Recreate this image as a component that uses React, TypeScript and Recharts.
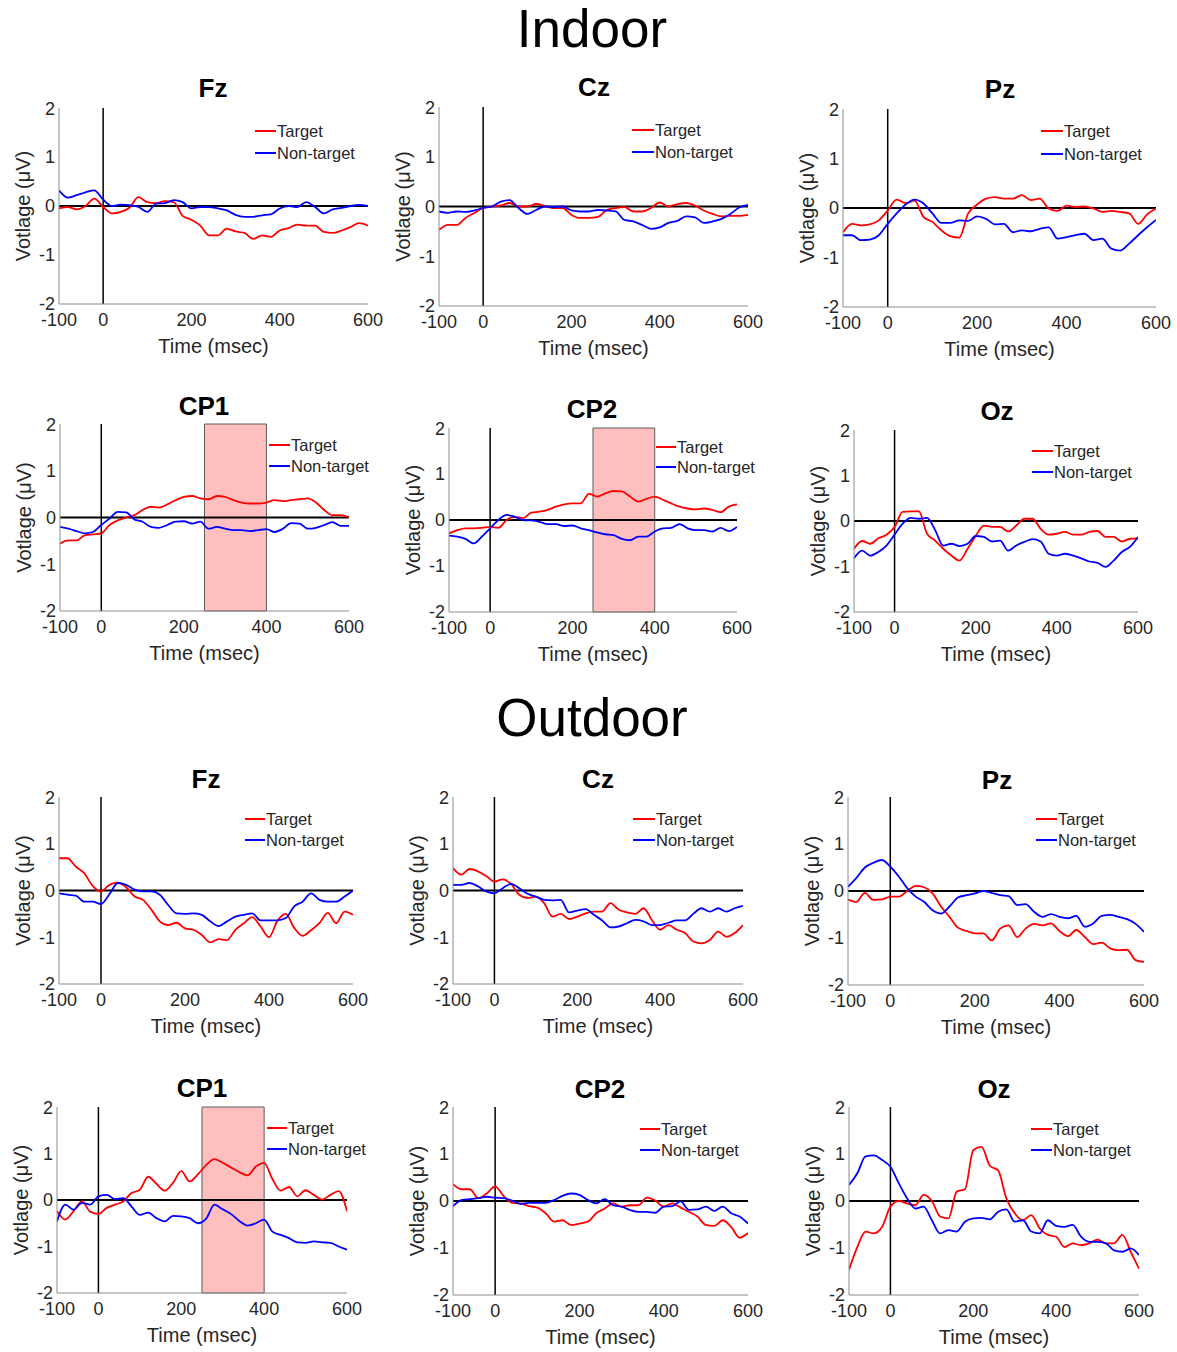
import React from 'react';
import { LineChart, Line, XAxis, YAxis, ReferenceLine, ReferenceArea } from 'recharts';

// ---------- data ----------
const TIMES = [-100, -80, -60, -40, -20, 0, 20, 40, 60, 80, 100, 120, 140, 160, 180, 200, 220, 240, 260, 280, 300, 320, 340, 360, 380, 400, 420, 440, 460, 480, 500, 520, 540, 560, 580, 600];
const X_TICKS = [-100, 0, 200, 400, 600];
const Y_TICKS = [-2, -1, 0, 1, 2];
const LEGEND_LABELS = ['Target', 'Non-target'];
const SECTION_TITLES = ['Indoor', 'Outdoor'];
const SHADE_WINDOW = [250, 400];

const indoorFzTarget = [-0.05, -0.02, -0.07, 0.0, 0.15, -0.02, -0.15, -0.12, -0.03, 0.18, 0.08, 0.06, 0.1, 0.08, -0.2, -0.28, -0.4, -0.6, -0.6, -0.46, -0.52, -0.55, -0.67, -0.6, -0.63, -0.5, -0.45, -0.38, -0.4, -0.4, -0.53, -0.55, -0.5, -0.43, -0.35, -0.4];
const indoorFzNon = [0.32, 0.17, 0.22, 0.28, 0.32, 0.13, 0.0, 0.03, 0.02, -0.02, -0.12, 0.05, 0.06, 0.12, 0.08, -0.05, -0.02, -0.02, -0.05, -0.09, -0.18, -0.22, -0.22, -0.19, -0.17, -0.05, 0.0, -0.02, 0.08, -0.02, -0.15, -0.07, -0.04, 0.0, 0.02, 0.0];

const indoorCzTarget = [-0.47, -0.37, -0.37, -0.23, -0.13, -0.03, 0.0, 0.02, 0.07, 0.0, 0.0, 0.05, 0.01, -0.03, -0.03, -0.17, -0.23, -0.23, -0.21, -0.07, -0.03, -0.01, -0.1, -0.1, -0.03, 0.08, 0.0, 0.05, 0.07, 0.02, -0.08, -0.15, -0.2, -0.19, -0.19, -0.17];
const indoorCzNon = [-0.1, -0.13, -0.1, -0.11, -0.08, -0.03, 0.0, 0.1, 0.13, -0.03, -0.15, -0.07, 0.0, -0.01, 0.0, -0.08, -0.1, -0.1, -0.07, -0.08, -0.1, -0.27, -0.3, -0.37, -0.45, -0.42, -0.33, -0.29, -0.2, -0.22, -0.33, -0.3, -0.25, -0.15, -0.02, 0.03];

const indoorPzTarget = [-0.49, -0.32, -0.35, -0.33, -0.25, -0.05, 0.17, 0.1, 0.15, -0.18, -0.28, -0.45, -0.57, -0.6, -0.11, 0.07, 0.19, 0.22, 0.19, 0.19, 0.26, 0.16, 0.19, -0.01, -0.06, 0.05, 0.02, 0.03, -0.01, -0.08, -0.06, -0.08, -0.11, -0.32, -0.13, -0.01];
const indoorPzNon = [-0.55, -0.55, -0.65, -0.64, -0.55, -0.32, -0.11, 0.07, 0.17, 0.09, -0.11, -0.3, -0.3, -0.25, -0.26, -0.17, -0.22, -0.33, -0.32, -0.49, -0.45, -0.47, -0.42, -0.39, -0.62, -0.59, -0.55, -0.52, -0.65, -0.62, -0.82, -0.86, -0.72, -0.55, -0.39, -0.24];

const indoorCp1Target = [-0.56, -0.49, -0.49, -0.38, -0.36, -0.34, -0.16, -0.06, 0.0, 0.05, 0.16, 0.23, 0.21, 0.28, 0.37, 0.44, 0.46, 0.41, 0.39, 0.46, 0.44, 0.37, 0.32, 0.3, 0.3, 0.32, 0.37, 0.35, 0.37, 0.39, 0.41, 0.32, 0.16, 0.05, 0.05, 0.0];
const indoorCp1Non = [-0.2, -0.24, -0.29, -0.34, -0.31, -0.16, -0.02, 0.12, 0.11, -0.04, -0.09, -0.2, -0.22, -0.16, -0.09, -0.08, -0.13, -0.09, -0.24, -0.2, -0.24, -0.27, -0.27, -0.29, -0.27, -0.25, -0.31, -0.24, -0.12, -0.13, -0.24, -0.22, -0.16, -0.1, -0.18, -0.18];

const indoorCp2Target = [-0.29, -0.22, -0.18, -0.18, -0.17, -0.15, -0.17, 0.0, 0.07, 0.04, 0.16, 0.18, 0.22, 0.29, 0.34, 0.36, 0.36, 0.57, 0.51, 0.58, 0.63, 0.62, 0.51, 0.4, 0.46, 0.51, 0.44, 0.36, 0.29, 0.25, 0.23, 0.25, 0.22, 0.17, 0.29, 0.34];
const indoorCp2Non = [-0.34, -0.36, -0.41, -0.51, -0.36, -0.18, 0.0, 0.11, 0.07, 0.0, -0.01, -0.04, -0.09, -0.09, -0.13, -0.12, -0.18, -0.22, -0.27, -0.31, -0.33, -0.41, -0.44, -0.36, -0.36, -0.25, -0.18, -0.17, -0.09, -0.18, -0.22, -0.22, -0.25, -0.17, -0.24, -0.15];

const indoorOzTarget = [-0.61, -0.44, -0.5, -0.38, -0.3, -0.13, 0.2, 0.21, 0.21, -0.28, -0.43, -0.61, -0.76, -0.87, -0.61, -0.33, -0.1, -0.13, -0.13, -0.23, -0.1, 0.05, 0.05, -0.17, -0.3, -0.28, -0.24, -0.3, -0.3, -0.24, -0.22, -0.35, -0.35, -0.45, -0.39, -0.38];
const indoorOzNon = [-0.82, -0.65, -0.76, -0.68, -0.54, -0.3, -0.06, 0.07, 0.05, 0.07, -0.2, -0.54, -0.5, -0.55, -0.5, -0.33, -0.35, -0.45, -0.43, -0.65, -0.54, -0.46, -0.4, -0.45, -0.72, -0.76, -0.72, -0.76, -0.82, -0.89, -0.92, -1.01, -0.87, -0.68, -0.57, -0.35];

const outdoorFzTarget = [0.69, 0.69, 0.51, 0.37, 0.1, -0.02, 0.12, 0.17, 0.07, -0.13, -0.2, -0.41, -0.66, -0.74, -0.69, -0.81, -0.84, -0.95, -1.11, -1.04, -1.06, -0.84, -0.7, -0.57, -0.77, -1.0, -0.65, -0.5, -0.8, -0.97, -0.85, -0.7, -0.48, -0.7, -0.45, -0.52];
const outdoorFzNon = [-0.06, -0.09, -0.11, -0.24, -0.24, -0.29, -0.08, 0.16, 0.12, 0.02, -0.02, -0.02, -0.09, -0.31, -0.49, -0.5, -0.49, -0.52, -0.66, -0.76, -0.66, -0.56, -0.52, -0.49, -0.64, -0.64, -0.64, -0.59, -0.34, -0.24, -0.06, -0.2, -0.24, -0.24, -0.13, 0.0];

const outdoorCzTarget = [0.48, 0.34, 0.46, 0.41, 0.31, 0.19, 0.24, 0.14, -0.09, -0.16, -0.13, -0.27, -0.56, -0.5, -0.61, -0.56, -0.49, -0.45, -0.45, -0.27, -0.41, -0.47, -0.5, -0.38, -0.63, -0.84, -0.74, -0.84, -0.91, -1.09, -1.13, -1.06, -0.88, -0.99, -0.91, -0.74];
const outdoorCzNon = [0.12, 0.12, 0.16, 0.09, -0.02, -0.06, 0.05, 0.14, 0.05, -0.07, -0.13, -0.2, -0.21, -0.2, -0.47, -0.43, -0.4, -0.52, -0.64, -0.79, -0.77, -0.7, -0.63, -0.66, -0.74, -0.74, -0.69, -0.64, -0.64, -0.5, -0.38, -0.45, -0.38, -0.45, -0.38, -0.33];

const outdoorPzTarget = [-0.18, -0.23, -0.04, -0.19, -0.18, -0.12, -0.12, 0.0, 0.11, 0.08, -0.05, -0.33, -0.55, -0.78, -0.85, -0.9, -0.9, -1.05, -0.8, -0.73, -0.98, -0.8, -0.7, -0.73, -0.69, -0.85, -0.96, -0.83, -0.98, -1.13, -1.1, -1.22, -1.26, -1.25, -1.47, -1.51];
const outdoorPzNon = [0.09, 0.28, 0.5, 0.6, 0.66, 0.52, 0.31, 0.06, -0.12, -0.23, -0.41, -0.48, -0.33, -0.14, -0.09, -0.05, 0.0, -0.04, -0.09, -0.11, -0.3, -0.28, -0.44, -0.55, -0.49, -0.55, -0.58, -0.53, -0.76, -0.69, -0.53, -0.51, -0.55, -0.6, -0.7, -0.87];

const outdoorCp1Target = [-0.24, -0.42, -0.24, -0.03, -0.25, -0.3, -0.17, -0.1, -0.03, 0.15, 0.22, 0.5, 0.35, 0.2, 0.37, 0.62, 0.4, 0.55, 0.75, 0.88, 0.8, 0.7, 0.6, 0.53, 0.72, 0.8, 0.45, 0.2, 0.28, 0.08, 0.21, 0.11, 0.01, 0.11, 0.19, -0.24];
const outdoorCp1Non = [-0.46, -0.1, -0.21, -0.06, -0.1, 0.08, 0.11, 0.02, 0.04, -0.14, -0.32, -0.27, -0.39, -0.46, -0.34, -0.35, -0.39, -0.5, -0.4, -0.1, -0.2, -0.3, -0.45, -0.55, -0.5, -0.42, -0.68, -0.75, -0.82, -0.91, -0.92, -0.89, -0.91, -0.92, -1.0, -1.07];

const outdoorCp2Target = [0.36, 0.25, 0.25, 0.06, 0.16, 0.31, 0.11, -0.04, -0.05, -0.11, -0.14, -0.26, -0.44, -0.41, -0.51, -0.48, -0.44, -0.26, -0.16, -0.05, -0.12, -0.09, -0.09, 0.07, 0.01, -0.12, -0.05, -0.14, -0.23, -0.33, -0.51, -0.53, -0.41, -0.55, -0.78, -0.68];
const outdoorCp2Non = [-0.11, 0.02, 0.04, 0.06, 0.09, 0.07, 0.06, 0.01, -0.06, -0.04, -0.04, -0.04, 0.02, 0.11, 0.16, 0.13, 0.02, -0.05, 0.04, -0.09, -0.12, -0.19, -0.23, -0.23, -0.25, -0.12, -0.11, -0.01, -0.19, -0.18, -0.12, -0.21, -0.12, -0.26, -0.33, -0.48];

const outdoorOzTarget = [-1.46, -0.98, -0.65, -0.69, -0.55, -0.12, 0.0, -0.05, -0.09, 0.13, 0.0, -0.33, -0.37, 0.2, 0.25, 1.08, 1.15, 0.75, 0.65, 0.05, -0.26, -0.41, -0.3, -0.58, -0.72, -0.76, -0.98, -0.9, -0.94, -0.9, -0.82, -0.9, -0.9, -0.72, -1.08, -1.44];
const outdoorOzNon = [0.34, 0.59, 0.95, 0.97, 0.87, 0.73, 0.38, 0.06, -0.16, -0.12, -0.41, -0.69, -0.62, -0.65, -0.44, -0.37, -0.36, -0.39, -0.23, -0.18, -0.44, -0.41, -0.65, -0.69, -0.41, -0.53, -0.55, -0.51, -0.76, -0.87, -0.87, -0.9, -1.05, -1.08, -1.01, -1.15];

// ---------- layout ----------
const FONT = "'Liberation Sans', Arial, Helvetica, sans-serif";
const TEXT_COLOR = '#262626';

type PanelCfg = {
  title: string;
  target: number[];
  nonTarget: number[];
  plot: [number, number, number, number]; // left, top, right, bottom
  titleAt: [number, number];
  legend: [number, number, number, number]; // x1, x2, yTarget, yNon
  shade: boolean;
};

const PANELS: PanelCfg[] = [
  { title: 'Fz', target: indoorFzTarget, nonTarget: indoorFzNon, plot: [59, 108, 368, 304], titleAt: [213, 88], legend: [255, 276, 131, 153], shade: false },
  { title: 'Cz', target: indoorCzTarget, nonTarget: indoorCzNon, plot: [439, 107, 748, 306], titleAt: [594, 87], legend: [632, 654, 130, 152], shade: false },
  { title: 'Pz', target: indoorPzTarget, nonTarget: indoorPzNon, plot: [843, 109, 1156, 307], titleAt: [1000, 89], legend: [1041, 1063, 131, 154], shade: false },
  { title: 'CP1', target: indoorCp1Target, nonTarget: indoorCp1Non, plot: [60, 424, 349, 611], titleAt: [204, 406], legend: [269, 290, 445, 466], shade: true },
  { title: 'CP2', target: indoorCp2Target, nonTarget: indoorCp2Non, plot: [449, 428, 737, 612], titleAt: [592, 409], legend: [656, 676, 447, 467], shade: true },
  { title: 'Oz', target: indoorOzTarget, nonTarget: indoorOzNon, plot: [854, 430, 1138, 612], titleAt: [997, 411], legend: [1032, 1053, 451, 472], shade: false },
  { title: 'Fz', target: outdoorFzTarget, nonTarget: outdoorFzNon, plot: [59, 797, 353, 984], titleAt: [206, 779], legend: [245, 265, 819, 840], shade: false },
  { title: 'Cz', target: outdoorCzTarget, nonTarget: outdoorCzNon, plot: [453, 797, 743, 984], titleAt: [598, 779], legend: [633, 655, 819, 840], shade: false },
  { title: 'Pz', target: outdoorPzTarget, nonTarget: outdoorPzNon, plot: [848, 797, 1144, 985], titleAt: [997, 780], legend: [1036, 1057, 819, 840], shade: false },
  { title: 'CP1', target: outdoorCp1Target, nonTarget: outdoorCp1Non, plot: [57, 1107, 347, 1293], titleAt: [202, 1088], legend: [267, 287, 1128, 1149], shade: true },
  { title: 'CP2', target: outdoorCp2Target, nonTarget: outdoorCp2Non, plot: [453, 1107, 748, 1295], titleAt: [600, 1089], legend: [640, 660, 1129, 1150], shade: false },
  { title: 'Oz', target: outdoorOzTarget, nonTarget: outdoorOzNon, plot: [849, 1107, 1139, 1295], titleAt: [994, 1089], legend: [1031, 1052, 1129, 1150], shade: false },
];

const ML = 20, YW = 40, MT = 10, MR = 20, XH = 60;

function Panel({ cfg }: { cfg: PanelCfg }) {
  const [pl, pt, pr, pb] = cfg.plot;
  const pw = pr - pl;
  const ph = pb - pt;
  const W = pw + ML + YW + MR;
  const H = ph + MT + XH;
  const data = TIMES.map((t, i) => ({ t, target: cfg.target[i], nonTarget: cfg.nonTarget[i] }));
  const [lx1, lx2, ly1, ly2] = cfg.legend;
  return (
    <>
      <div style={{ position: 'absolute', left: pl - ML - YW, top: pt - MT }}>
        <LineChart width={W} height={H} data={data} margin={{ top: MT, right: MR, left: ML, bottom: 0 }}>
          <XAxis
            dataKey="t"
            type="number"
            domain={[-100, 600]}
            ticks={X_TICKS}
            allowDataOverflow
            height={XH}
            stroke="#8c8c8c"
            tickLine={false}
            tickSize={2}
            tickMargin={7}
            tick={{ fill: TEXT_COLOR, fontSize: 18 }}
            label={{ value: 'Time (msec)', position: 'insideTop', offset: 35, fill: TEXT_COLOR, fontSize: 20 }}
          />
          <YAxis
            type="number"
            domain={[-2, 2]}
            ticks={Y_TICKS}
            allowDataOverflow
            width={YW}
            stroke="#8c8c8c"
            tickLine={false}
            tickSize={2}
            tickMargin={2}
            tick={{ fill: TEXT_COLOR, fontSize: 18 }}
            label={{ value: 'Votlage (μV)', angle: -90, position: 'insideLeft', offset: 4, fill: TEXT_COLOR, fontSize: 20, style: { textAnchor: 'middle' } }}
          />
          {cfg.shade && (
            <ReferenceArea x1={SHADE_WINDOW[0]} x2={SHADE_WINDOW[1]} y1={-2} y2={2} fill="#ffbfbf" fillOpacity={1} stroke="#5a5a5a" strokeWidth={1} />
          )}
          <ReferenceLine y={0} stroke="#000" strokeWidth={2} />
          <ReferenceLine x={0} stroke="#000" strokeWidth={1.5} />
          <Line dataKey="target" type="monotone" stroke="#ff0000" strokeWidth={1.8} dot={false} isAnimationActive={false} />
          <Line dataKey="nonTarget" type="monotone" stroke="#0000ff" strokeWidth={1.8} dot={false} isAnimationActive={false} />
        </LineChart>
      </div>
      <div style={{ position: 'absolute', left: cfg.titleAt[0] - 100, top: cfg.titleAt[1] - 15, width: 200, textAlign: 'center', fontSize: 26, fontWeight: 'bold', lineHeight: '30px', color: '#000' }}>
        {cfg.title}
      </div>
      {[ly1, ly2].map((ly, i) => (
        <React.Fragment key={i}>
          <div style={{ position: 'absolute', left: lx1, top: ly - 1, width: lx2 - lx1, height: 2, background: i === 0 ? '#ff0000' : '#0000ff' }} />
          <div style={{ position: 'absolute', left: lx2 + 1, top: ly - 10, fontSize: 16.5, lineHeight: '20px', color: TEXT_COLOR, whiteSpace: 'nowrap' }}>
            {LEGEND_LABELS[i]}
          </div>
        </React.Fragment>
      ))}
    </>
  );
}

export default function App() {
  return (
    <div style={{ position: 'absolute', left: 0, top: 0, width: 1177, height: 1352, background: '#fff', fontFamily: FONT, overflow: 'hidden' }}>
      <div style={{ position: 'absolute', left: 392, top: 0, width: 400, textAlign: 'center', fontSize: 53, lineHeight: '58px', color: '#000' }}>
        {SECTION_TITLES[0]}
      </div>
      <div style={{ position: 'absolute', left: 392, top: 689, width: 400, textAlign: 'center', fontSize: 53, lineHeight: '58px', color: '#000' }}>
        {SECTION_TITLES[1]}
      </div>
      {PANELS.map((cfg, i) => (
        <Panel key={i} cfg={cfg} />
      ))}
    </div>
  );
}
